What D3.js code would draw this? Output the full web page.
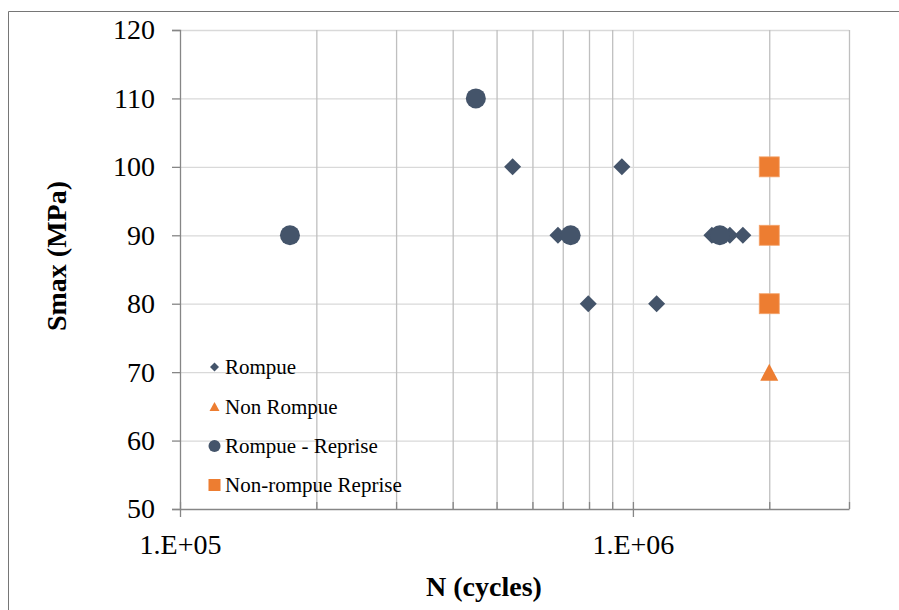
<!DOCTYPE html>
<html>
<head>
<meta charset="utf-8">
<script src="https://cdn.jsdelivr.net/npm/d3@7"></script>
<style>
  html, body { margin: 0; padding: 0; background: #fff; }
  svg { display: block; }
  text { font-family: "Liberation Serif", "Times New Roman", serif; fill: #000; }
</style>
</head>
<body>
<svg id="chart" width="899" height="610"></svg>
<script>
// ---- Data ----
const rompueN = [542500, 945600, 683000, 1494000, 1637000, 1749000, 796800, 1128000];
const rompueS = [100, 100, 90, 90, 90, 90, 80, 80];
const nonRompueN = [2000000];
const nonRompueS = [70];
const repriseN = [174900, 450000, 728600, 1556000];
const repriseS = [90, 110, 90, 90];
const nonRepriseN = [2000000, 2000000, 2000000];
const nonRepriseS = [100, 90, 80];

const yTicks = [50, 60, 70, 80, 90, 100, 110, 120];
const xMajorTicks = [1e5, 1e6];
const xMajorLabels = ["1.E+05", "1.E+06"];
const xMinorTicks = [1e5, 2e5, 3e5, 4e5, 5e5, 6e5, 7e5, 8e5, 9e5, 1e6, 2e6, 3e6];
const xMinorGrid = [2e5, 3e5, 4e5, 5e5, 6e5, 7e5, 8e5, 9e5, 2e6, 3e6];
const seriesNames = ["Rompue", "Non Rompue", "Rompue - Reprise", "Non-rompue Reprise"];

// ---- Layout ----
const svg = d3.select("#chart");
const L = 180, R = 849, T = 30, B = 509;
const BLUE = "#44546A", ORANGE = "#ED7D31";

const x = d3.scaleLog().domain([1e5, 3e6]).range([L, R]);
const y = d3.scaleLinear().domain([50, 120]).range([B, T]);

// outer border (top and left visible)
svg.append("path")
  .attr("d", `M8.5,610 L8.5,11.5 L899,11.5`)
  .attr("fill", "none").attr("stroke", "#767676").attr("stroke-width", 1);

// horizontal gridlines
svg.append("g").attr("transform", `translate(${L},0)`)
  .call(d3.axisLeft(y).tickValues(yTicks.slice(1)).tickSize(-(R - L)).tickFormat(""))
  .call(g => g.select(".domain").remove())
  .call(g => g.selectAll("line").attr("stroke", "#d9d9d9").attr("stroke-width", 1.3));

// vertical minor gridlines
svg.append("g").attr("transform", `translate(0,${B})`)
  .call(d3.axisBottom(x).tickValues(xMinorGrid).tickSize(-(B - T)).tickFormat(""))
  .call(g => g.select(".domain").remove())
  .call(g => g.selectAll("line").attr("stroke", "#bfbfbf").attr("stroke-width", 1.3));

// vertical major gridline
svg.append("g").attr("transform", `translate(0,${B})`)
  .call(d3.axisBottom(x).tickValues([1e6]).tickSize(-(B - T)).tickFormat(""))
  .call(g => g.select(".domain").remove())
  .call(g => g.selectAll("line").attr("stroke", "#d9d9d9").attr("stroke-width", 1.3));

// Y axis
svg.append("g").attr("transform", `translate(${L},0)`)
  .call(d3.axisLeft(y).tickValues(yTicks).tickSize(8).tickPadding(17).tickFormat(d3.format("d")))
  .call(g => g.select(".domain").attr("stroke", "#868686").attr("stroke-width", 1.3))
  .call(g => g.selectAll("line").attr("stroke", "#868686").attr("stroke-width", 1.3))
  .call(g => g.selectAll("text").attr("font-size", 28).attr("font-family", "Liberation Serif, Times New Roman, serif").attr("fill", "#000"));

// X axis minor ticks (inward)
svg.append("g").attr("transform", `translate(0,${B})`)
  .call(d3.axisBottom(x).tickValues(xMinorTicks).tickSizeInner(-7).tickSizeOuter(0).tickFormat(""))
  .call(g => g.select(".domain").attr("stroke", "#868686").attr("stroke-width", 1.6))
  .call(g => g.selectAll("line").attr("stroke", "#868686").attr("stroke-width", 1.3));

// X axis major ticks (outward) + labels
svg.append("g").attr("transform", `translate(0,${B})`)
  .call(d3.axisBottom(x).tickValues(xMajorTicks).tickSizeInner(8).tickSizeOuter(0).tickPadding(17)
        .tickFormat((d, i) => xMajorLabels[i]))
  .call(g => g.select(".domain").remove())
  .call(g => g.selectAll("line").attr("stroke", "#868686").attr("stroke-width", 1.3))
  .call(g => g.selectAll("text").attr("font-size", 28).attr("font-family", "Liberation Serif, Times New Roman, serif").attr("fill", "#000"));

// axis titles
svg.append("text")
  .attr("transform", `translate(66,256) rotate(-90)`)
  .attr("text-anchor", "middle")
  .attr("font-size", 28).attr("font-weight", "bold")
  .text("Smax (MPa)");
svg.append("text")
  .attr("x", 484).attr("y", 596)
  .attr("text-anchor", "middle")
  .attr("font-size", 28).attr("font-weight", "bold")
  .text("N (cycles)");

// ---- Marks ----
const marks = svg.append("g");
const diamond = s => `M0,${-s} L${s},0 L0,${s} L${-s},0 Z`;
const triangle = (w, h) => `M0,${-h / 2} L${w / 2},${h / 2} L${-w / 2},${h / 2} Z`;

// Rompue (diamonds)
marks.append("g").selectAll("path").data(rompueN.map((n, i) => [n, rompueS[i]]))
  .join("path")
  .attr("transform", d => `translate(${x(d[0])},${y(d[1])})`)
  .attr("d", diamond(8.5)).attr("fill", BLUE);

// Non Rompue (triangles)
marks.append("g").selectAll("path").data(nonRompueN.map((n, i) => [n, nonRompueS[i]]))
  .join("path")
  .attr("transform", d => `translate(${x(d[0])},${y(d[1])})`)
  .attr("d", triangle(18, 17)).attr("fill", ORANGE);

// Rompue - Reprise (circles)
marks.append("g").selectAll("circle").data(repriseN.map((n, i) => [n, repriseS[i]]))
  .join("circle")
  .attr("cx", d => x(d[0])).attr("cy", d => y(d[1]))
  .attr("r", 10).attr("fill", BLUE);

// Non-rompue Reprise (squares)
marks.append("g").selectAll("rect").data(nonRepriseN.map((n, i) => [n, nonRepriseS[i]]))
  .join("rect")
  .attr("x", d => x(d[0]) - 10).attr("y", d => y(d[1]) - 10)
  .attr("width", 20).attr("height", 20)
  .attr("fill", ORANGE).attr("stroke", "#f4a36b").attr("stroke-width", 0.8);

// ---- Legend ----
const leg = svg.append("g");
const legY = [367, 406.5, 446, 485];
const mx = 214.5, tx = 225;
leg.append("path").attr("transform", `translate(${mx},${legY[0]})`).attr("d", diamond(4.5)).attr("fill", BLUE);
leg.append("path").attr("transform", `translate(${mx},${legY[1]})`).attr("d", triangle(10, 9)).attr("fill", ORANGE);
leg.append("circle").attr("cx", mx).attr("cy", legY[2]).attr("r", 6).attr("fill", BLUE);
leg.append("rect").attr("x", mx - 6).attr("y", legY[3] - 6).attr("width", 12).attr("height", 12).attr("fill", ORANGE);
leg.selectAll("text").data(seriesNames).join("text")
  .attr("x", tx).attr("y", (d, i) => legY[i] + 7)
  .attr("font-size", 21)
  .text(d => d);
</script>
</body>
</html>
